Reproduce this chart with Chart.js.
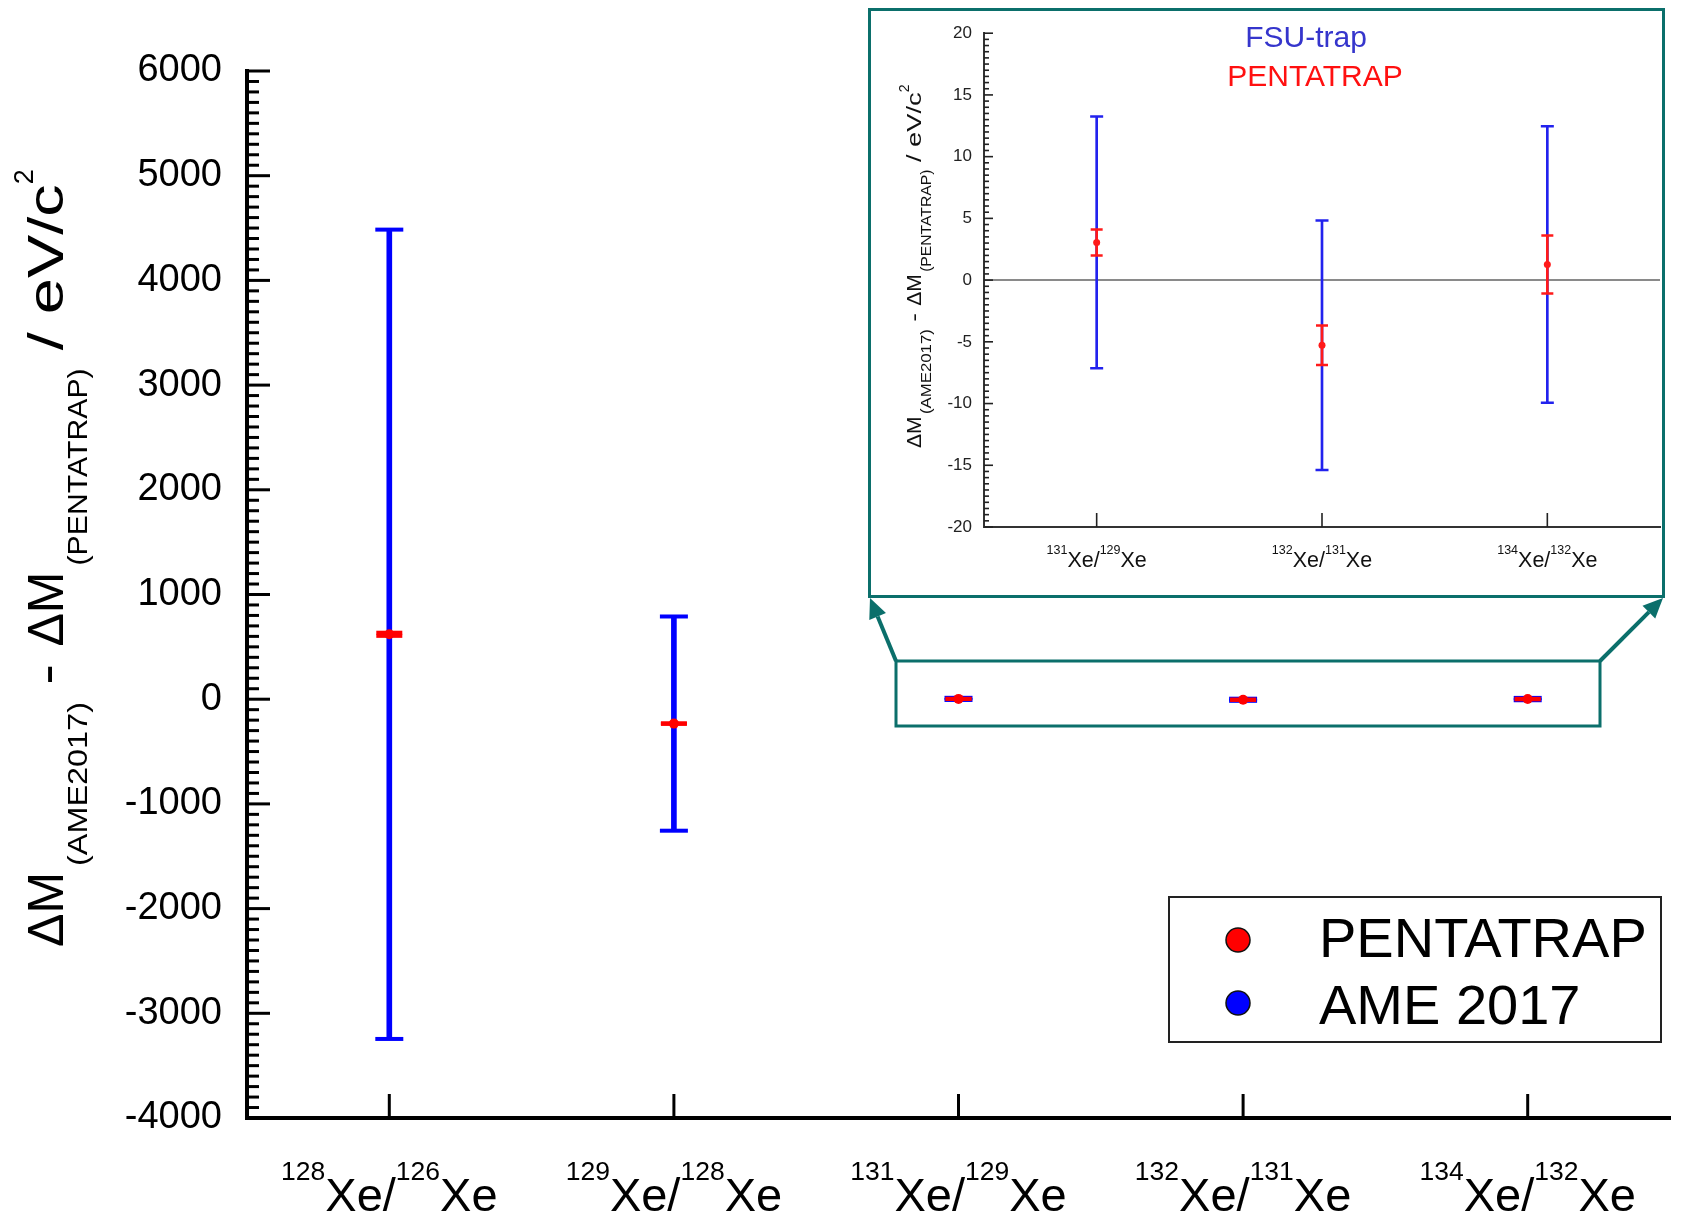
<!DOCTYPE html>
<html>
<head>
  <meta charset="utf-8">
  <title>Xe mass differences: AME2017 vs PENTATRAP</title>
  <script src="https://cdn.jsdelivr.net/npm/chart.js"></script>
  <style>
    html, body { margin: 0; padding: 0; background: #fff; }
    #wrap { position: relative; width: 1681px; height: 1217px; }
    #main { position: absolute; left: 0; top: 0; }
    #inset {
      position: absolute; left: 868px; top: 8px;
      width: 797px; height: 590px;
      box-sizing: border-box;
      border: 3px solid #0b6f6b;
      background: #fff;
    }
    #inset canvas { display: block; }
  </style>
</head>
<body>
<div id="wrap">
  <canvas id="main" width="1681" height="1217"></canvas>
  <div id="inset"><canvas id="insetChart" width="791" height="584"></canvas></div>
</div>

<script>
  const FONT = "'Liberation Sans', Arial, Helvetica, sans-serif";
  const TEAL = '#0b6f6b';

  // --- data ---
  const pairs = [['128', '126'], ['129', '128'], ['131', '129'], ['132', '131'], ['134', '132']];
  const diffValues   = [620, -233, 3.05, -5.28, 1.26];   // eV/c^2
  const ameErr       = [3865, 1023, 10.2, 10.1, 11.2];    // AME2017 / FSU-trap uncertainty
  const pentatrapErr = [15, 3, 1.05, 1.6, 2.35];          // PENTATRAP uncertainty
  const legendNames  = ['PENTATRAP', 'AME 2017'];
  const insetNames   = ['FSU-trap', 'PENTATRAP'];
  const insetIdx     = [2, 3, 4];

  Chart.defaults.font.family = FONT;
  Chart.defaults.color = '#000';

  // error bar = floating bar + two 'line' points as caps, plus a dot for PENTATRAP
  function errorSets(idx, st) {
    const pts = idx.map((i, k) => ({ x: k, v: diffValues[i], a: ameErr[i], p: pentatrapErr[i] }));
    return [
      { type: 'scatter', data: pts.map(o => ({ x: o.x, y: o.v })),
        pointStyle: 'circle', pointRadius: st.dot, pointBackgroundColor: st.red, pointBorderWidth: 0 },
      { type: 'scatter', data: pts.flatMap(o => [{ x: o.x, y: o.v + o.p }, { x: o.x, y: o.v - o.p }]),
        pointStyle: 'line', pointRadius: st.redCap, pointBorderColor: st.red, pointBorderWidth: st.capW },
      { type: 'bar', data: pts.map(o => ({ x: o.x, y: [o.v - o.p, o.v + o.p] })),
        backgroundColor: st.red, barThickness: st.redBar, grouped: false, borderWidth: 0 },
      { type: 'scatter', data: pts.flatMap(o => [{ x: o.x, y: o.v + o.a }, { x: o.x, y: o.v - o.a }]),
        pointStyle: 'line', pointRadius: st.blueCap, pointBorderColor: st.blue, pointBorderWidth: st.capW },
      { type: 'bar', data: pts.map(o => ({ x: o.x, y: [o.v - o.a, o.v + o.a] })),
        backgroundColor: st.blue, barThickness: st.blueBar, grouped: false, borderWidth: 0 }
    ];
  }

  // text made of pieces (sub/superscripts), drawn along +x from (x0, y0)
  function partsWidth(ctx, parts) {
    let w = 0;
    parts.forEach(p => {
      ctx.font = p.size + 'px ' + FONT;
      w += ctx.measureText(p.t).width * (p.sx || 1) + (p.gap || 0);
    });
    return w;
  }
  function drawParts(ctx, parts, x0, y0) {
    let x = x0;
    parts.forEach(p => {
      ctx.font = p.size + 'px ' + FONT;
      const w = ctx.measureText(p.t).width * (p.sx || 1);
      ctx.save();
      ctx.translate(x, y0 + (p.dy || 0));
      ctx.scale(p.sx || 1, 1);
      ctx.fillText(p.t, 0, 0);
      ctx.restore();
      x += w + (p.gap || 0);
    });
  }
  function pairLabel(pair, big, small, rise) {
    return [
      { t: pair[0], size: small, dy: -rise },
      { t: 'Xe/', size: big },
      { t: pair[1], size: small, dy: -rise },
      { t: 'Xe', size: big }
    ];
  }
  function yTitle(big, small, sub, sup, s) {
    return [
      { t: 'ΔM', size: big, gap: 6 * s },
      { t: '(AME2017)', size: small, dy: sub, sx: 1.2 },
      { t: ' - ', size: big, sx: 1.25 },
      { t: 'ΔM', size: big, gap: 6 * s },
      { t: '(PENTATRAP)', size: small, dy: sub, sx: 1.12 },
      { t: ' / eV/c', size: big, sx: 1.3 },
      { t: '2', size: small, dy: -sup }
    ];
  }
  function inwardTicks(ctx, chart, minorStep, majorEvery, majorLen, minorLen, xLen) {
    const { chartArea: a, scales: { x, y } } = chart;
    const n0 = Math.round(y.min / minorStep), n1 = Math.round(y.max / minorStep);
    for (let k = n0; k <= n1; k++) {
      const py = y.getPixelForValue(k * minorStep);
      const len = (k % majorEvery === 0) ? majorLen : minorLen;
      ctx.beginPath();
      ctx.moveTo(a.left, py);
      ctx.lineTo(a.left + len, py);
      ctx.stroke();
    }
    x.ticks.forEach(t => {
      const px = x.getPixelForValue(t.value);
      ctx.beginPath();
      ctx.moveTo(px, a.bottom);
      ctx.lineTo(px, a.bottom - xLen);
      ctx.stroke();
    });
  }
  function arrow(ctx, x0, y0, x1, y1) {
    const ang = Math.atan2(y1 - y0, x1 - x0);
    const hl = 20, hw = 9;
    const bx = x1 - hl * Math.cos(ang), by = y1 - hl * Math.sin(ang);
    ctx.beginPath();
    ctx.moveTo(x0, y0);
    ctx.lineTo(bx, by);
    ctx.stroke();
    ctx.beginPath();
    ctx.moveTo(x1, y1);
    ctx.lineTo(bx + hw * Math.sin(ang), by - hw * Math.cos(ang));
    ctx.lineTo(bx - hw * Math.sin(ang), by + hw * Math.cos(ang));
    ctx.closePath();
    ctx.fill();
  }

  const mainDecor = {
    id: 'mainDecor',
    afterDraw(chart) {
      const { ctx, scales: { x } } = chart;
      ctx.save();
      ctx.strokeStyle = '#000';
      ctx.lineWidth = 3;
      inwardTicks(ctx, chart, 100, 10, 23, 12, 24);

      // category labels
      ctx.fillStyle = '#000';
      ctx.textBaseline = 'alphabetic';
      x.ticks.forEach(t => {
        const parts = pairLabel(pairs[t.value], 47, 26.5, 31);
        const px = x.getPixelForValue(t.value);
        drawParts(ctx, parts, px - partsWidth(ctx, parts) / 2, 1211);
      });

      // rotated axis title
      ctx.save();
      ctx.translate(63, 947);
      ctx.rotate(-Math.PI / 2);
      drawParts(ctx, yTitle(50, 27, 24, 30, 1), 0, 0);
      ctx.restore();

      // legend
      ctx.lineWidth = 2;
      ctx.strokeStyle = '#222';
      ctx.strokeRect(1169, 897, 492, 145);
      [['#ff0000', 940, 957], ['#0000ff', 1003, 1024]].forEach((m, i) => {
        ctx.beginPath();
        ctx.arc(1238, m[1], 12, 0, Math.PI * 2);
        ctx.fillStyle = m[0];
        ctx.fill();
        ctx.lineWidth = 1.5;
        ctx.strokeStyle = '#111';
        ctx.stroke();
        ctx.fillStyle = '#000';
        ctx.font = '56px ' + FONT;
        ctx.fillText(legendNames[i], 1319, m[2]);
      });

      // zoom box and arrows to the inset
      ctx.strokeStyle = TEAL;
      ctx.fillStyle = TEAL;
      ctx.lineWidth = 3;
      ctx.strokeRect(896, 661, 704, 65);
      ctx.lineWidth = 4;
      arrow(ctx, 896, 661, 870, 598);
      arrow(ctx, 1600, 661, 1663, 598);
      ctx.restore();
    }
  };

  const insetDecor = {
    id: 'insetDecor',
    afterDraw(chart) {
      const { ctx, scales: { x } } = chart;
      ctx.save();
      ctx.strokeStyle = '#222';
      ctx.lineWidth = 1.6;
      inwardTicks(ctx, chart, 0.5, 10, 9, 5, 14);

      ctx.fillStyle = '#111';
      ctx.textBaseline = 'alphabetic';
      x.ticks.forEach(t => {
        const parts = pairLabel(pairs[insetIdx[t.value]], 21.5, 12.5, 13);
        const px = x.getPixelForValue(t.value);
        drawParts(ctx, parts, px - partsWidth(ctx, parts) / 2, 556);
      });

      ctx.save();
      ctx.translate(50, 437);
      ctx.rotate(-Math.PI / 2);
      drawParts(ctx, yTitle(21, 14, 10, 12, 0.4), 0, 0);
      ctx.restore();

      ctx.textAlign = 'center';
      ctx.font = '30px ' + FONT;
      ctx.fillStyle = '#3535cc';
      ctx.fillText(insetNames[0], 435, 36);
      ctx.fillStyle = '#ff1010';
      ctx.fillText(insetNames[1], 444, 75);
      ctx.restore();
    }
  };

  function indexTicks(n) {
    return scale => { scale.ticks = Array.from({ length: n }, (_, i) => ({ value: i })); };
  }

  new Chart(document.getElementById('main'), {
    type: 'bar',
    data: {
      datasets: errorSets(pairs.map((_, i) => i), {
        red: '#ff0000', blue: '#0000ff', dot: 5, redCap: 13, blueCap: 14,
        capW: 4, redBar: 3, blueBar: 5
      })
    },
    options: {
      responsive: false,
      animation: false,
      events: [],
      layout: { autoPadding: false, padding: { top: 71, right: 11, left: 0, bottom: 0 } },
      plugins: { legend: { display: false }, tooltip: { enabled: false } },
      scales: {
        x: {
          type: 'linear', min: -0.5, max: 4.5, offset: false,
          afterBuildTicks: indexTicks(pairs.length),
          afterFit: s => { s.height = 99; },
          ticks: { display: false },
          grid: { drawOnChartArea: false, drawTicks: false },
          border: { color: '#000', width: 4 }
        },
        y: {
          type: 'linear', min: -4000, max: 6000,
          afterFit: s => { s.width = 247; },
          ticks: { stepSize: 1000, autoSkip: false, padding: 25, color: '#000',
                   font: { size: 38 }, callback: v => String(v) },
          grid: { drawOnChartArea: false, drawTicks: false },
          border: { color: '#000', width: 4 }
        }
      }
    },
    plugins: [mainDecor]
  });

  new Chart(document.getElementById('insetChart'), {
    type: 'bar',
    data: {
      datasets: errorSets(insetIdx, {
        red: '#ff1a1a', blue: '#2222ee', dot: 3.5, redCap: 6, blueCap: 6.5,
        capW: 2.5, redBar: 2, blueBar: 2
      })
    },
    options: {
      responsive: false,
      animation: false,
      events: [],
      layout: { autoPadding: false, padding: { top: 22, right: 2, left: 0, bottom: 0 } },
      plugins: { legend: { display: false }, tooltip: { enabled: false } },
      scales: {
        x: {
          type: 'linear', min: -0.5, max: 2.5, offset: false,
          afterBuildTicks: indexTicks(insetIdx.length),
          afterFit: s => { s.height = 68; },
          ticks: { display: false },
          grid: { drawOnChartArea: false, drawTicks: false },
          border: { color: '#333', width: 2 }
        },
        y: {
          type: 'linear', min: -20, max: 20,
          afterFit: s => { s.width = 113; },
          ticks: { stepSize: 5, autoSkip: false, padding: 12, color: '#222',
                   font: { size: 17 }, callback: v => String(v) },
          grid: {
            drawTicks: false, lineWidth: 2,
            color: c => (c.tick && c.tick.value === 0) ? '#8a8a8a' : 'rgba(0,0,0,0)'
          },
          border: { color: '#333', width: 2 }
        }
      }
    },
    plugins: [insetDecor]
  });
</script>
</body>
</html>
